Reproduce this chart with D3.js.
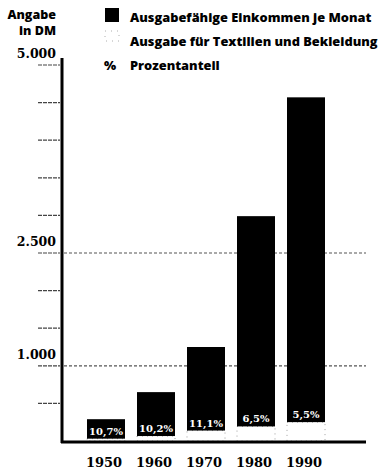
<!DOCTYPE html>
<html lang="de">
<head>
<meta charset="UTF-8">
<title>Einkommen und Ausgaben für Bekleidung</title>
<script src="https://d3js.org/d3.v7.min.js"></script>
<style>
  body { margin: 0; background: #fff; }
  .sans { font-family: "Open Sans", sans-serif; font-weight: 800; }
  .serif { font-family: "DejaVu Serif", serif; font-weight: 700; }
</style>
</head>
<body>
<div id="chart"></div>
<script>
// values
const years = ['1950', '1960', '1970', '1980', '1990'];
const income = [290, 650, 1250, 2990, 4570];      // Ausgabefähige Einkommen je Monat (DM)
const textiles = [31, 66, 139, 194, 251];          // Ausgabe für Textilien und Bekleidung (DM)
const shares = ['10,7%', '10,2%', '11,1%', '6,5%', '5,5%'];
const yTicks = [500, 1000, 1500, 2000, 2500, 3000, 3500, 4000, 4500, 5000];
const yLabels = [5000, 2500, 1000];
const gridLines = [2500, 1000];
const legendItems = ['Ausgabefähige Einkommen je Monat', 'Ausgabe für Textilien und Bekleidung', 'Prozentanteil'];

const width = 386, height = 472;

const svg = d3.select('#chart')
    .append('svg')
    .attr('width', width)
    .attr('height', height);

const x = d3.scaleBand()
    .domain(years)
    .range([81, 331])
    .paddingInner(0.24)
    .paddingOuter(0.12);

const y = d3.scaleLinear()
    .domain([0, 5000])
    .range([441, 65]);

const fmt = d => d3.format(',')(d).replace(',', '.');

// grid lines
svg.append('g')
    .selectAll('line')
    .data(gridLines)
    .enter().append('line')
    .attr('x1', 64).attr('x2', 366)
    .attr('y1', d => y(d)).attr('y2', d => y(d))
    .attr('stroke', '#555')
    .attr('stroke-width', 1.2)
    .attr('stroke-dasharray', '3,2');

// small ticks left of axis
svg.append('g')
    .selectAll('line')
    .data(yTicks)
    .enter().append('line')
    .attr('x1', 38).attr('x2', 60)
    .attr('y1', d => y(d)).attr('y2', d => y(d))
    .attr('stroke', '#444')
    .attr('stroke-width', 1.2)
    .attr('stroke-dasharray', '4,1');

// y labels
svg.append('g')
    .selectAll('text')
    .data(yLabels)
    .enter().append('text')
    .attr('class', 'serif')
    .attr('x', 56)
    .attr('y', d => y(d) - 7)
    .attr('text-anchor', 'end')
    .attr('font-size', 12.5)
    .text(fmt);

// bars: textile part at bottom, rest black
const bars = svg.append('g')
    .selectAll('g')
    .data(years)
    .enter().append('g');

bars.append('rect')
    .attr('x', d => x(d))
    .attr('width', x.bandwidth())
    .attr('y', (d, i) => y(textiles[i]))
    .attr('height', (d, i) => y(0) - y(textiles[i]))
    .attr('fill', '#fff')
    .attr('stroke', '#888')
    .attr('stroke-width', 0.8)
    .attr('stroke-dasharray', '1,4');

bars.append('rect')
    .attr('x', d => x(d))
    .attr('width', x.bandwidth())
    .attr('y', (d, i) => y(income[i]))
    .attr('height', (d, i) => y(textiles[i]) - y(income[i]))
    .attr('fill', '#000');

bars.append('text')
    .attr('class', 'serif')
    .attr('x', d => x(d) + x.bandwidth() / 2)
    .attr('y', (d, i) => y(textiles[i]) - 4)
    .attr('text-anchor', 'middle')
    .attr('font-size', 10)
    .attr('fill', '#fff')
    .text((d, i) => shares[i]);

// year labels
svg.append('g')
    .selectAll('text')
    .data(years)
    .enter().append('text')
    .attr('class', 'serif')
    .attr('x', d => x(d) + x.bandwidth() / 2 - 2)
    .attr('y', 467)
    .attr('text-anchor', 'middle')
    .attr('font-size', 13)
    .text(d => d);

// axes
svg.append('line')
    .attr('x1', 62).attr('x2', 62)
    .attr('y1', 58).attr('y2', 443)
    .attr('stroke', '#000')
    .attr('stroke-width', 3);

svg.append('line')
    .attr('x1', 61).attr('x2', 366)
    .attr('y1', 442).attr('y2', 442)
    .attr('stroke', '#000')
    .attr('stroke-width', 3);

// unit title
svg.append('text')
    .attr('class', 'sans')
    .attr('x', 56).attr('y', 19)
    .attr('text-anchor', 'end')
    .attr('font-size', 12.5)
    .text('Angabe');
svg.append('text')
    .attr('class', 'sans')
    .attr('x', 56).attr('y', 35)
    .attr('text-anchor', 'end')
    .attr('font-size', 12.5)
    .text('in DM');

// legend
svg.append('g')
    .selectAll('text')
    .data(legendItems)
    .enter().append('text')
    .attr('class', 'sans')
    .attr('x', 130)
    .attr('y', (d, i) => 22 + i * 24)
    .attr('font-size', 12.8)
    .text(d => d);

svg.append('rect')
    .attr('x', 105).attr('y', 8)
    .attr('width', 14).attr('height', 14)
    .attr('fill', '#000');

svg.append('rect')
    .attr('x', 105).attr('y', 31)
    .attr('width', 14).attr('height', 10)
    .attr('fill', 'none')
    .attr('stroke', '#999')
    .attr('stroke-width', 0.8)
    .attr('stroke-dasharray', '1,5');

svg.append('text')
    .attr('class', 'sans')
    .attr('x', 104).attr('y', 70)
    .attr('font-size', 12.8)
    .text('%');
</script>
</body>
</html>
